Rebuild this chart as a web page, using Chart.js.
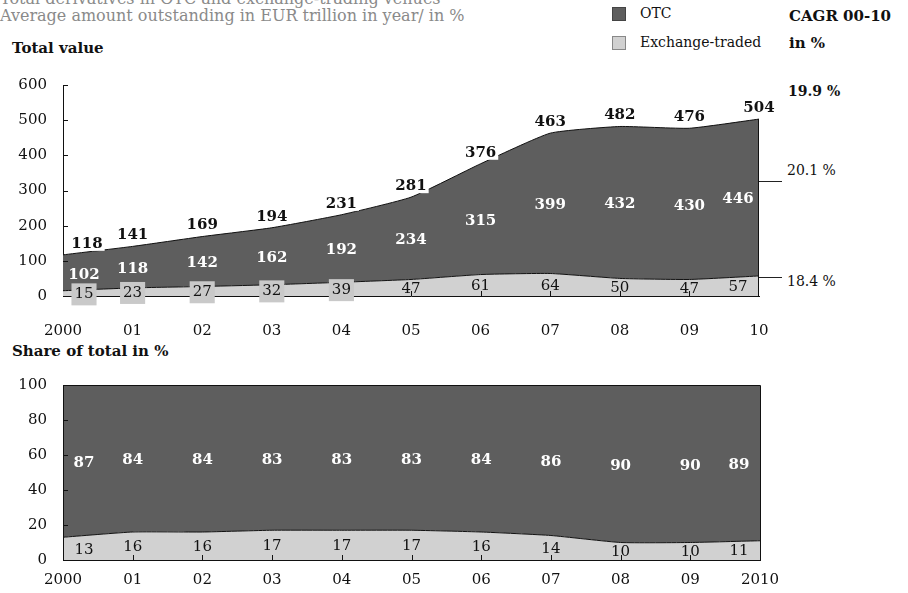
<!DOCTYPE html>
<html>
<head>
<meta charset="utf-8">
<script src="https://cdn.jsdelivr.net/npm/chart.js@4.4.1/dist/chart.umd.min.js"></script>
<style>
  body { margin: 0; width: 908px; height: 593px; position: relative; overflow: hidden; background: #fff; font-family: "DejaVu Serif", serif; color: #111; }
  .t { position: absolute; white-space: nowrap; line-height: 1; }
  .box { position: absolute; width: 12px; height: 12px; }
  .rule { position: absolute; height: 0; border-top: 1px solid #222; }
  #topWrap { position: absolute; left: 0; top: 60px; width: 800px; height: 290px; }
  #shareWrap { position: absolute; left: 0; top: 360px; width: 800px; height: 233px; }
</style>
</head>
<body>
<div class="t" style="left:0;top:-9px;font-size:16px;color:#8a8a8a;">Total derivatives in OTC and exchange-trading venues</div>
<div class="t" style="left:0;top:8px;font-size:16px;color:#8a8a8a;">Average amount outstanding in EUR trillion in year/ in %</div>
<div class="t" style="left:12px;top:41px;font-size:15px;font-weight:bold;">Total value</div>
<div class="t" style="left:12px;top:344px;font-size:15px;font-weight:bold;">Share of total in %</div>

<div class="box" style="left:612px;top:7px;background:#5e5e5e;border:1px solid #444;"></div>
<div class="t" style="left:640px;top:6px;font-size:14px;">OTC</div>
<div class="box" style="left:612px;top:36px;background:#d1d1d1;border:1px solid #888;"></div>
<div class="t" style="left:640px;top:35px;font-size:14px;">Exchange-traded</div>
<div class="t" style="left:789px;top:9px;font-size:15px;font-weight:bold;">CAGR 00-10</div>
<div class="t" style="left:789px;top:36px;font-size:15px;font-weight:bold;">in %</div>

<div class="t" style="left:788px;top:84px;font-size:14px;font-weight:bold;">19.9 %</div>
<div class="rule" style="left:748px;top:181px;width:34px;"></div>
<div class="t" style="left:787px;top:163px;font-size:14px;">20.1 %</div>
<div class="rule" style="left:748px;top:277px;width:34px;"></div>
<div class="t" style="left:787px;top:274px;font-size:14px;">18.4 %</div>

<div id="topWrap"><canvas id="totalChart"></canvas></div>
<div id="shareWrap"><canvas id="shareChart"></canvas></div>

<script>
// data
const years = ['2000', '01', '02', '03', '04', '05', '06', '07', '08', '09', '10'];
const shareYears = ['2000', '01', '02', '03', '04', '05', '06', '07', '08', '09', '2010'];
const otcValues = [102, 118, 142, 162, 192, 234, 315, 399, 432, 430, 446];
const exchangeValues = [15, 23, 27, 32, 39, 47, 61, 64, 50, 47, 57];
const totalValues = [118, 141, 169, 194, 231, 281, 376, 463, 482, 476, 504];
const otcShare = [87, 84, 84, 83, 83, 83, 84, 86, 90, 90, 89];
const exchangeShare = [13, 16, 16, 17, 17, 17, 16, 14, 10, 10, 11];

const DARK = '#5e5e5e';
const LIGHT = '#d1d1d1';
const FONT = '"DejaVu Serif", serif';

// inward ticks, edges and the value labels
const areaLabels = {
    id: 'areaLabels',
    afterDatasetsDraw(chart, args, opts) {
        const ctx = chart.ctx;
        const xs = chart.scales.x, ys = chart.scales.y;
        const area = chart.chartArea;
        const lower = chart.getDatasetMeta(0).data;
        const upper = chart.getDatasetMeta(1).data;
        const last = lower.length - 1;
        const zero = ys.getPixelForValue(0);
        const shift = (i) => i === 0 ? 21 : (i === last ? -21 : 0);

        ctx.save();
        ctx.strokeStyle = '#111';
        ctx.lineWidth = 1;
        ctx.beginPath();
        ys.ticks.forEach((t, i) => {
            const py = Math.round(ys.getPixelForTick(i)) + 0.5;
            ctx.moveTo(area.left, py);
            ctx.lineTo(area.left + 5, py);
        });
        for (let i = 1; i < last; i++) {
            const px = Math.round(xs.getPixelForTick(i)) + 0.5;
            ctx.moveTo(px, area.bottom);
            ctx.lineTo(px, area.bottom - 5);
        }
        if (opts.frame) {
            ctx.rect(Math.round(area.left) + 0.5, Math.round(area.top) + 0.5,
                     Math.round(area.right - area.left), Math.round(area.bottom - area.top));
        } else {
            const rx = Math.round(upper[last].x) - 0.5;
            ctx.moveTo(rx, upper[last].y);
            ctx.lineTo(rx, zero);
        }
        ctx.stroke();

        ctx.textAlign = 'center';
        ctx.textBaseline = 'middle';

        // lower band (exchange-traded)
        ctx.font = '15px ' + FONT;
        opts.lower.forEach((v, i) => {
            const x = lower[i].x + shift(i);
            const y = (lower[i].y + zero) / 2 + 1;
            if (opts.boxLower && v < 45) {
                const w = ctx.measureText(String(v)).width + 6;
                ctx.fillStyle = '#c9c9c9';
                ctx.fillRect(x - w / 2, y - 11, w, 22);
            }
            ctx.fillStyle = '#111';
            ctx.fillText(String(v), x, y);
        });

        // upper band (OTC)
        ctx.font = 'bold 15px ' + FONT;
        ctx.fillStyle = '#fff';
        opts.upper.forEach((v, i) => {
            const x = upper[i].x + shift(i);
            const y = (upper[i].y + lower[i].y) / 2 + 2;
            ctx.fillText(String(v), x, y);
        });

        // totals above the top line
        if (opts.totals) {
            opts.totals.forEach((v, i) => {
                const x = upper[i].x + (i === 0 ? 24 : 0);
                const y = upper[i].y - 11;
                const w = ctx.measureText(String(v)).width + 4;
                ctx.fillStyle = '#fff';
                ctx.fillRect(x - w / 2, y - 7, w, 14);
                ctx.fillStyle = '#111';
                ctx.fillText(String(v), x, y);
            });
        }
        ctx.restore();
    }
};

function buildChart(id, labels, lowerData, upperData, yMax, yStep, xHeight, xPad, padding, labelOpts) {
    return new Chart(document.getElementById(id), {
        type: 'line',
        data: {
            labels: labels,
            datasets: [{
                label: 'Exchange-traded',
                data: lowerData,
                backgroundColor: LIGHT,
                borderColor: '#111',
                borderWidth: 1,
                pointRadius: 0,
                tension: 0.15,
                fill: 'origin'
            }, {
                label: 'OTC',
                data: upperData,
                backgroundColor: DARK,
                borderColor: '#111',
                borderWidth: 1,
                pointRadius: 0,
                tension: 0.15,
                fill: '-1'
            }]
        },
        options: {
            responsive: true,
            maintainAspectRatio: false,
            animation: false,
            layout: { padding: padding },
            plugins: {
                legend: { display: false },
                tooltip: { enabled: false },
                areaLabels: labelOpts
            },
            scales: {
                x: {
                    offset: false,
                    grid: { display: false, drawTicks: false },
                    border: { display: true, color: '#111', width: 1 },
                    ticks: { color: '#111', font: { family: FONT, size: 15 }, padding: xPad, maxRotation: 0, autoSkip: false },
                    afterFit(scale) { scale.height = xHeight; }
                },
                y: {
                    stacked: true,
                    min: 0,
                    max: yMax,
                    grid: { display: false, drawTicks: false },
                    border: { display: true, color: '#111', width: 1 },
                    ticks: { stepSize: yStep, color: '#111', font: { family: FONT, size: 15 }, padding: 16 },
                    afterFit(scale) { scale.width = 63; }
                }
            }
        },
        plugins: [areaLabels]
    });
}

buildChart('totalChart', years, exchangeValues, otcValues, 600, 100, 54, 26,
    { top: 10, right: 41, left: 0, bottom: 0 },
    { lower: exchangeValues, upper: otcValues, totals: totalValues, boxLower: true, frame: false });

buildChart('shareChart', shareYears, exchangeShare, otcShare, 100, 20, 33, 11,
    { top: 18, right: 40, left: 0, bottom: 0 },
    { lower: exchangeShare, upper: otcShare, totals: null, boxLower: false, frame: true });
</script>
</body>
</html>
